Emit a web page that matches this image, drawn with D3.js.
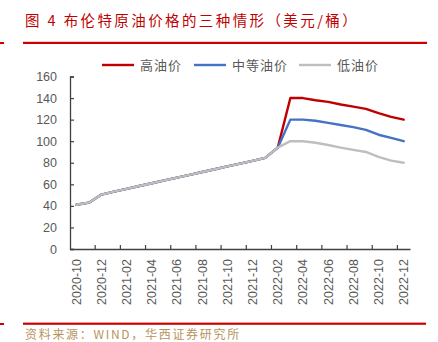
<!DOCTYPE html>
<html><head><meta charset="utf-8">
<script src="https://cdn.jsdelivr.net/npm/d3@7"></script>
<style>
html,body{margin:0;padding:0;background:#fff;}
svg{display:block;}
</style></head>
<body>
<svg id="c" width="438" height="342"></svg>
<script>
const months = ["2020-10","2020-11","2020-12","2021-01","2021-02","2021-03","2021-04","2021-05","2021-06","2021-07","2021-08","2021-09","2021-10","2021-11","2021-12","2022-01","2022-02","2022-03","2022-04","2022-05","2022-06","2022-07","2022-08","2022-09","2022-10","2022-11","2022-12"];
const highPrice = [41,43,50.5,53.2,55.8,58.4,61,63.6,66.2,68.8,71.4,74,76.6,79.2,81.8,84.5,94,140,140,138,136.5,134,132,130,126,122.5,120];
const midPrice  = [41,43,50.5,53.2,55.8,58.4,61,63.6,66.2,68.8,71.4,74,76.6,79.2,81.8,84.5,94,120,120,119,117,115,113,110.5,106,103,100];
const lowPrice  = [41,43,50.5,53.2,55.8,58.4,61,63.6,66.2,68.8,71.4,74,76.6,79.2,81.8,84.5,94,100,100,98.5,96.5,94,92,90,85.5,82,80];
const seriesNames = ["高油价","中等油价","低油价"];
const seriesColors = ["#C00000","#4472C4","#BEBEBE"];
const yTicks = [0,20,40,60,80,100,120,140,160];
const titleText = "图 4 布伦特原油价格的三种情形（美元/桶）";
const sourceText = "资料来源：WIND，华西证券研究所";

const svg = d3.select("#c");
const x = d3.scaleBand().domain(months).range([70, 410]).padding(0);
const y = d3.scaleLinear().domain([0,160]).range([249, 76.5]);
const bw = x.bandwidth();
const axisColor = "#404040";
const textColor = "#595959";
const font = "'Liberation Sans', Arial, sans-serif";
const cjk = "'Noto Sans CJK SC', sans-serif";

// title
svg.append("text").attr("x",25).attr("y",26).attr("fill","#C00000")
  .attr("font-family",cjk).attr("font-size",14.5).attr("letter-spacing",2.4)
  .attr("xml:space","preserve").text(titleText);
svg.append("rect").attr("x",23).attr("y",41.8).attr("width",404).attr("height",2.2).attr("fill","#CC0000");
svg.append("rect").attr("x",0).attr("y",42).attr("width",4).attr("height",2).attr("fill","#CC0000");
// footer
svg.append("rect").attr("x",23).attr("y",322.6).attr("width",403).attr("height",2.2).attr("fill","#CC0000");
svg.append("rect").attr("x",0).attr("y",323).attr("width",4).attr("height",2).attr("fill","#CC0000");
svg.append("text").attr("x",25).attr("y",339).attr("fill","#B8935E")
  .attr("font-family",cjk).attr("font-size",12).attr("letter-spacing",1.7).text(sourceText);

// y axis
const yAxis = d3.axisLeft(y).tickValues(yTicks).tickSize(-4).tickPadding(13);
const gy = svg.append("g").attr("transform","translate(70,0)").call(yAxis);
gy.select(".domain").attr("stroke",axisColor).attr("stroke-width",1.3);
gy.selectAll(".tick line").attr("stroke",axisColor).attr("stroke-width",1.2);
gy.selectAll(".tick text").attr("fill",textColor).attr("font-family",font).attr("font-size",12.5);

// x axis
const xAxis = d3.axisBottom(x).tickValues(months.filter((d,i)=>i%2===0)).tickSize(0).tickPadding(0);
const gx = svg.append("g").attr("transform","translate(0,249)").call(xAxis);
gx.select(".domain").attr("stroke",axisColor).attr("stroke-width",1.3);
gx.selectAll(".tick text").attr("fill",textColor).attr("font-family",font).attr("font-size",12.5)
  .attr("text-anchor","end").attr("dy","0.35em")
  .attr("transform","translate(0,10) rotate(-90)").attr("x",0).attr("y",0);
// tick marks at category boundaries every 2 categories
const boundaryMonths = months.filter((d,i)=>i>0 && i%2===0);
gx.selectAll(".bt").data(boundaryMonths).enter().append("line")
  .attr("x1",d=>x(d)).attr("x2",d=>x(d)).attr("y1",0).attr("y2",-4)
  .attr("stroke",axisColor).attr("stroke-width",1.2);

// lines
const line = d3.line().x((d,i)=>x(months[i])+bw/2).y(d=>y(d));
[highPrice, midPrice, lowPrice].forEach((s,k)=>{
  svg.append("path").attr("d",line(s)).attr("fill","none")
    .attr("stroke",seriesColors[k]).attr("stroke-width",2.4)
    .attr("stroke-linejoin","round").attr("stroke-linecap","round");
});

// legend
const legX = [102,194,299];
seriesNames.forEach((n,k)=>{
  svg.append("line").attr("x1",legX[k]).attr("x2",legX[k]+32).attr("y1",65).attr("y2",65)
    .attr("stroke",seriesColors[k]).attr("stroke-width",2.4);
  svg.append("text").attr("x",legX[k]+38).attr("y",69.5).attr("fill",textColor)
    .attr("font-family",cjk).attr("font-size",13).attr("letter-spacing",1).text(n);
});
</script>
</body></html>
